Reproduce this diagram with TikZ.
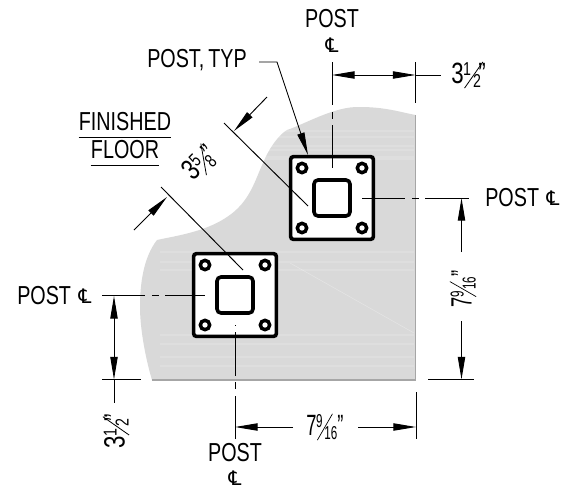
\documentclass[tikz,border=0pt]{standalone}
\usepackage{fontspec}
\setmainfont{Liberation Sans}[FakeStretch=0.76]
\newfontfamily\clfont{DejaVu Sans}
\usepackage{tikz}
\usetikzlibrary{arrows.meta, calc, positioning}

\newcommand{\cl}{{\clfont\fontsize{15}{16}\selectfont ℄}}
\newcommand{\smalldigit}[1]{{\fontsize{14}{14}\selectfont #1}}
\newcommand{\sfrac}[3]{#1\kern-0.5pt\raisebox{6pt}{\smalldigit{#2}}\kern-5pt\raisebox{-3.5pt}{\rotatebox{55}{\rule{24pt}{0.6pt}}}\kern-7.5pt\raisebox{-3pt}{\smalldigit{#3}}}

\tikzset{
    label/.style={inner sep=0pt, font=\fontsize{19.5}{21}\selectfont},
    dimlabel/.style={inner sep=0pt, font=\fontsize{22}{24}\selectfont},
    thin line/.style={line width=0.7pt},
    centerline/.style={thin line, dash pattern=on 32.5pt off 5pt on 5.5pt off 4.5pt},
    dimarrow/.style={thin line, -{Triangle[length=17pt,width=5.5pt]}},
    plate/.style={draw, fill=white, line width=2.7pt, rounded corners=2pt, minimum size=62pt, inner sep=0pt},
    tube/.style={draw, fill=white, line width=2.7pt, rounded corners=3pt, minimum size=27pt, inner sep=0pt},
    hole/.style={draw, fill=white, circle, line width=2.6pt, minimum size=7pt, inner sep=0pt}
}

\begin{document}
\begin{tikzpicture}[x=0.75pt, y=-0.75pt]
    \useasboundingbox (0, 0) rectangle (565, 490);

    % floor slab
    \path[fill=black!15] (152, 380) .. controls (146, 360) and (140, 330) .. (140, 307)
        .. controls (140, 285) and (143, 258) .. (157, 240)
        .. controls (175, 236) and (205, 232) .. (227, 217)
        .. controls (250, 202) and (255, 180) .. (263, 163)
        .. controls (270, 146) and (280, 134) .. (287, 130)
        .. controls (305, 124) and (335, 106) .. (360, 107)
        .. controls (385, 107) and (400, 112) .. (415.5, 115) -- (415.5, 380) -- cycle;
    \begin{scope}
        \clip (140, 100) rectangle (414, 379);
        \foreach \y in {131, 137, 146, 150, 157, 159, 252, 262, 270, 335, 344, 357, 366} {
            \draw[white, opacity=0.15, line width=0.8pt] (160, \y) -- (414, \y);
        }
        \draw[white, opacity=0.3, line width=0.4pt] (290, 263) -- (414, 333);
    \end{scope}
    \draw[black!35, line width=1.1pt] (415.5, 115) -- (415.5, 380) -- (152, 380);

    % posts
    \node[plate] (plateA) at (332, 198) {};
    \node[plate] (plateB) at (235, 295) {};
    \foreach \p in {A, B} {
        \node[tube] (tube\p) at (plate\p) {};
        \node[hole] at ($(plate\p) + (-30, -30)$) {};
        \node[hole] at ($(plate\p) + (30, -30)$) {};
        \node[hole] at ($(plate\p) + (-30, 30)$) {};
        \node[hole] at ($(plate\p) + (30, 30)$) {};
    }

    % labels
    \node[label] (postT) at (332, 19) {POST};
    \node[label] (clT) at (332, 45) {\cl};
    \node[label, anchor=west] (postR) at (485, 198) {POST};
    \node[label] (clR) at (553, 198) {\cl};
    \node[label] (postB) at (235, 453) {POST};
    \node[label] (clB) at (235, 478) {\cl};
    \node[label, anchor=west] (postL) at (17, 296) {POST};
    \node[label] (clL) at (85, 296) {\cl};
    \node[label, anchor=west] (typ) at (147, 60) {POST,\kern3pt TYP};
    \node[label] (finished) at (125, 122) {FINISHED};
    \node[label] (floor) at (125, 150) {FLOOR};
    \node[dimlabel, anchor=west] (dimT) at (451, 75) {\sfrac{3}{1}{2}\kern-2pt"};
    \node[dimlabel, rotate=90] (dimR) at (463, 289) {\scalebox{0.82}[1]{\sfrac{7}{9}{16}"}};
    \node[dimlabel] (dimB) at (325, 427) {\scalebox{0.82}[1]{\sfrac{7}{9}{16}"}};
    \node[dimlabel, rotate=90] (dimL) at (116, 431) {\sfrac{3}{1}{2}\kern-2pt"};
    \node[dimlabel, rotate=45] (dimD) at (200, 163) {\sfrac{3}{5}{8}\kern-2pt"};

    \draw[thin line] ($(finished.south west) + (0, 6)$) -- ($(finished.south east) + (0, 6)$);
    \draw[thin line] ($(floor.south west) + (0, 6)$) -- ($(floor.south east) + (0, 6)$);

    % center lines
    \draw[centerline] ($(plateA) + (0, -136)$) -- ($(plateA) + (0, -30)$);
    \draw[centerline] ($(plateA) + (30, 0)$) -- ($(postR.west) + (-12, 0)$);
    \draw[centerline] ($(plateB) + (-133, 0)$) -- ($(plateB) + (-30, 0)$);
    \draw[centerline] ($(plateB) + (0, 144)$) -- ($(plateB) + (0, 30)$);

    % extension lines
    \draw[thin line] (415.5, 62) -- (415.5, 103);
    \draw[thin line] (416, 392) -- (416, 439);
    \draw[thin line] (428, 379.5) -- (474, 379.5);
    \draw[thin line] (102, 379.5) -- (141, 379.5);
    \draw[thin line] (224, 123) -- ($(plateA) + (-24, 8)$);
    \draw[thin line] (161, 187) -- ($(plateB) + (8, -25)$);

    % dimensions
    \draw[dimarrow] (374, 75) -- (332, 75);
    \draw[dimarrow] (374, 75) -- (415.5, 75);
    \draw[thin line] (415.5, 75) -- ($(dimT.west) + (-10, 0)$);
    \draw[dimarrow] (461.5, 252) -- (461.5, 198);
    \draw[dimarrow] (461.5, 321) -- (461.5, 379.5);
    \draw[dimarrow] (293, 427) -- (235, 427);
    \draw[dimarrow] (358, 427) -- (416, 427);
    \draw[dimarrow] (114, 340) -- (114, 296);
    \draw[dimarrow] (114, 340) -- (114, 379.5);
    \draw[thin line] (114, 379.5) -- (114, 403);
    \draw[dimarrow] (267, 97) -- (234, 131);
    \draw[dimarrow] (134, 230) -- (167, 197);

    % leader
    \draw[dimarrow] ($(typ.east) + (12, 2)$) -- (277, 62) -- (308, 155);
\end{tikzpicture}
\end{document}
